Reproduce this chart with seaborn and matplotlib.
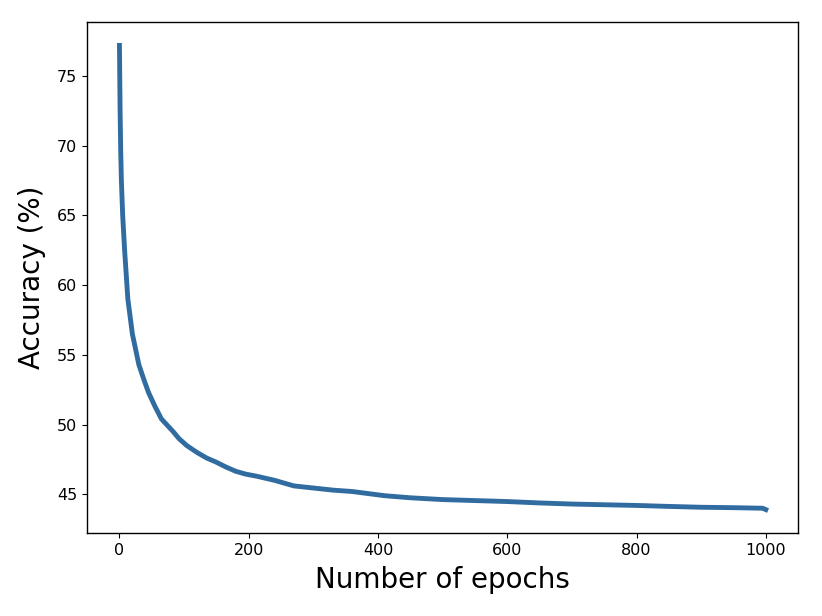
import pandas as pd
import matplotlib
matplotlib.use("Agg")
import matplotlib.pyplot as plt
import seaborn as sns

# accuracy curve
epochs = [0, 1, 2, 3, 5, 8, 13, 20, 30, 38, 45, 55, 65, 75, 83, 92, 104, 120,
          135, 150, 165, 180, 195, 212, 240, 270, 300, 330, 360, 410, 450,
          500, 550, 600, 650, 700, 750, 800, 850, 900, 950, 995, 1000]
accuracy = [77.2, 72.5, 69.5, 67.5, 65.0, 62.5, 59.0, 56.5, 54.3, 53.2, 52.3,
            51.3, 50.4, 49.9, 49.5, 49.0, 48.5, 48.0, 47.6, 47.3, 46.95, 46.65,
            46.45, 46.3, 46.0, 45.6, 45.45, 45.3, 45.2, 44.9, 44.75, 44.62,
            44.55, 44.48, 44.38, 44.3, 44.25, 44.2, 44.13, 44.07, 44.04, 44.0,
            43.9]

df = pd.DataFrame({"epoch": epochs, "acc": accuracy})

fig = plt.figure(figsize=(8.22, 6.16), dpi=100)
ax = fig.add_axes([0.106, 0.135, 0.865, 0.829])
sns.lineplot(data=df, x="epoch", y="acc", ax=ax, color="#316ca1", linewidth=3.5)

ax.set_xticks([0, 200, 400, 600, 800, 1000])
ax.set_yticks([45, 50, 55, 60, 65, 70, 75])
ax.tick_params(labelsize=11.5)
ax.set_xlabel("Number of epochs", fontsize=20, labelpad=6)
ax.set_ylabel("Accuracy (%)", fontsize=20, labelpad=8)
for s in ax.spines.values():
    s.set_color("black")
    s.set_linewidth(1.0)

fig.savefig("out.png", dpi=100, facecolor="white")
